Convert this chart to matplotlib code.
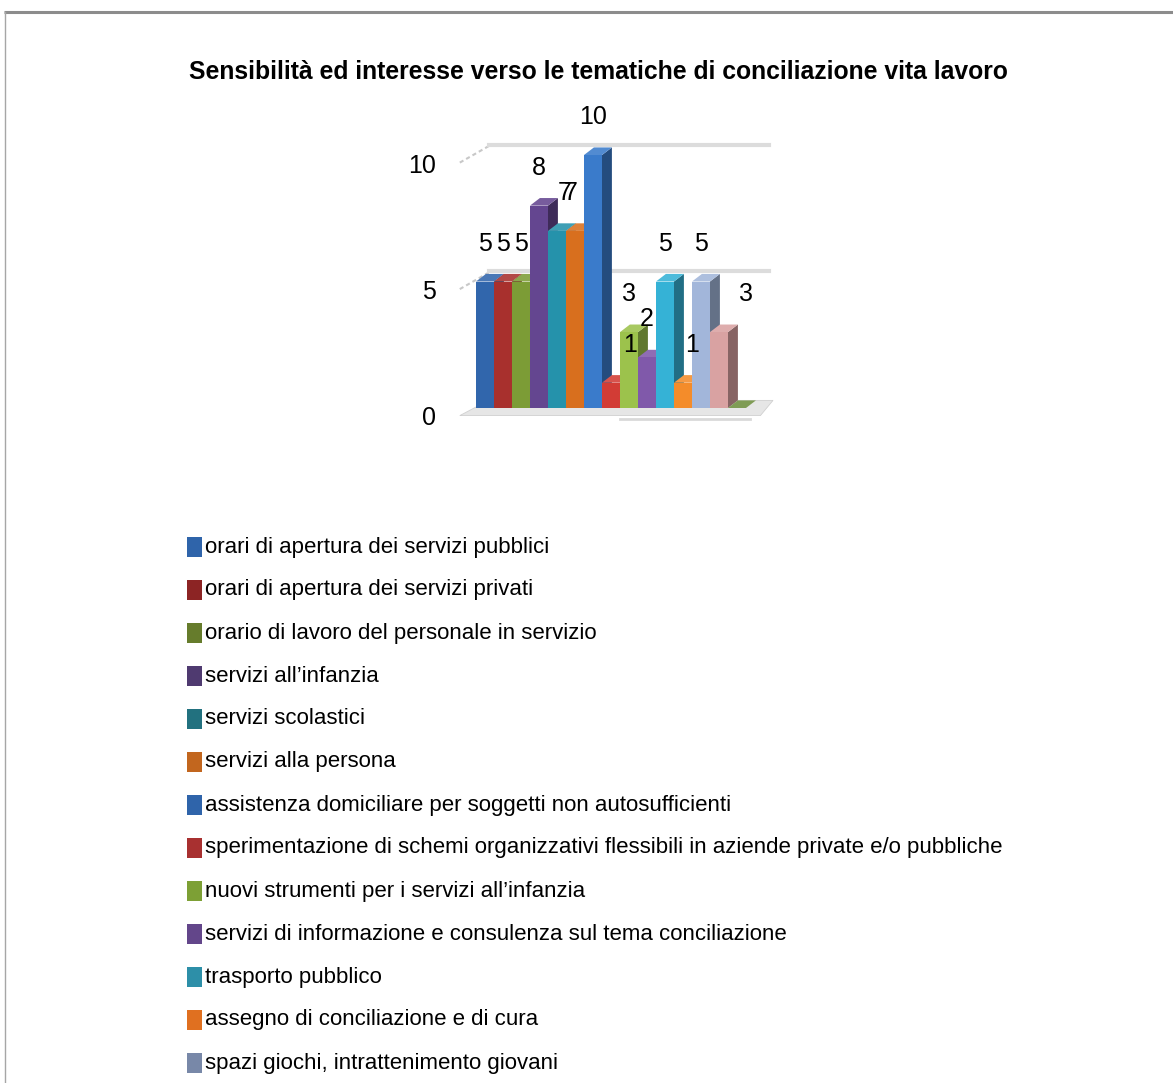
import numpy as np
import matplotlib.pyplot as plt
import matplotlib.transforms as mtransforms
from matplotlib.patches import Polygon, Rectangle
from matplotlib.colors import to_rgb

plt.rcParams['font.family'] = ['Liberation Sans', 'DejaVu Sans']

title = 'Sensibilità ed interesse verso le tematiche di conciliazione vita lavoro'

categories = [
    'orari di apertura dei servizi pubblici',
    'orari di apertura dei servizi privati',
    'orario di lavoro del personale in servizio',
    'servizi all\u2019infanzia',
    'servizi scolastici',
    'servizi alla persona',
    'assistenza domiciliare per soggetti non autosufficienti',
    'sperimentazione di schemi organizzativi flessibili in aziende private e/o pubbliche',
    'nuovi strumenti per i servizi all\u2019infanzia',
    'servizi di informazione e consulenza sul tema conciliazione',
    'trasporto pubblico',
    'assegno di conciliazione e di cura',
    'spazi giochi, intrattenimento giovani',
]
# 15 series in the chart, the legend is cut off after the 13th
values = [5, 5, 5, 8, 7, 7, 10, 1, 3, 2, 5, 1, 5, 3, 0]
yticks = [0, 5, 10]

colors = ['#3166AC', '#A8302D', '#7C9C36', '#644690', '#2592AB', '#D86F1E',
          '#3A7BCB', '#D23C35', '#9CC24C', '#8059AA', '#35B2D6', '#F48C2A',
          '#A2B6DA', '#D9A2A2', '#6E8E3E']
legend_colors = ['#2F64AA', '#8C2424', '#667C2C', '#4F3A70', '#22717F', '#C2661E',
                 '#2F64AA', '#A83030', '#7DA035', '#63468A', '#2D8FA8', '#E07020',
                 '#7888A8']
label_nudge = {4: 0.45, 5: -0.25, 7: 1.05, 11: 0.5, 13: 1.5}


def shade(c, f):
    r = np.array(to_rgb(c))
    return tuple(np.clip(r * f, 0, 1))


def tint(c, f):
    r = np.array(to_rgb(c))
    return tuple(r + (1 - r) * f)


W, H = 1173, 1083
fig = plt.figure(figsize=(W / 100, H / 100), dpi=100)
fig.patch.set_facecolor('white')

# page layer in pixel coordinates
bg = fig.add_axes([0, 0, 1, 1])
bg.set_xlim(0, W)
bg.set_ylim(H, 0)
bg.axis('off')
bg.plot([4, W], [12, 12], color='#8C8C8C', lw=2.2, solid_capstyle='butt')
bg.plot([4.5, 4.5], [12, H], color='#A6A6A6', lw=1.0)

bg.text(598, 72, title, ha='center', va='center', fontsize=17.8,
        fontweight='bold', color='black')

for k, (name, col) in enumerate(zip(categories, legend_colors)):
    yc = 547 + k * 43
    bg.add_patch(Rectangle((187, yc - 10), 15, 20, facecolor=col, edgecolor='none'))
    bg.text(205, yc, name, ha='left', va='center', fontsize=16, color='black')

# chart
ax = fig.add_axes([440 / W, 1 - 430 / H, 360 / W, 320 / H])
ax.set_xlim(-2.5, 17.5)
ax.set_ylim(-0.87, 11.78)
for s in ax.spines.values():
    s.set_visible(False)
ax.set_xticks([])
ax.set_yticks(yticks)
ax.set_yticklabels([str(t) for t in yticks], fontsize=18)
ax.tick_params(axis='y', length=0, pad=3)

dx, dy = 0.55, 0.3
n = len(values)
x = np.arange(n)

# floor
ax.add_patch(Polygon([(-1.4, -0.3), (n + 0.3, -0.3), (n + 1.0, 0.3), (0.2, 0.3)],
                     closed=True, facecolor='#E6E6E6', edgecolor='#D0D0D0', lw=0.6, zorder=1))
ax.plot([7.5, n - 0.3], [-0.45, -0.45], color='#D9D9D9', lw=2, zorder=1)

# back wall grid lines
for t in yticks[1:]:
    ax.plot([-1.4, 0.2], [t - 0.3, t + 0.35], color='#C8C8C8', lw=1.5, ls=(0, (2, 1.5)), zorder=1)
    ax.plot([0.2, n + 0.8], [t + 0.4, t + 0.4], color='#DCDCDC', lw=3, zorder=1)

bars = ax.bar(x, values, width=1.0, color=colors[:n], edgecolor='none')
for i, (b, v) in enumerate(zip(bars, values)):
    z = 3 + i * 3
    b.set_zorder(z + 2)
    c = colors[i]
    side = [(i + 0.5, 0), (i + 0.5 + dx, dy), (i + 0.5 + dx, v + dy), (i + 0.5, v)]
    top = [(i - 0.5, v), (i - 0.5 + dx, v + dy), (i + 0.5 + dx, v + dy), (i + 0.5, v)]
    ax.add_patch(Polygon(side, closed=True, facecolor=shade(c, 0.62), edgecolor='none', zorder=z))
    ax.add_patch(Polygon(top, closed=True, facecolor=tint(c, 0.12), edgecolor='none', zorder=z + 1))

for i, v in enumerate(values):
    if v == 0:
        continue
    ax.text(i + label_nudge.get(i, 0), v + 1.5, str(v), ha='center', va='center',
            fontsize=18, color='black', zorder=100)

# shift y tick labels down a little, as in the perspective view
off = mtransforms.ScaledTranslation(0, -8 / 100, fig.dpi_scale_trans)
for lab in ax.get_yticklabels():
    lab.set_transform(lab.get_transform() + off)

fig.savefig('out.png', dpi=100)
